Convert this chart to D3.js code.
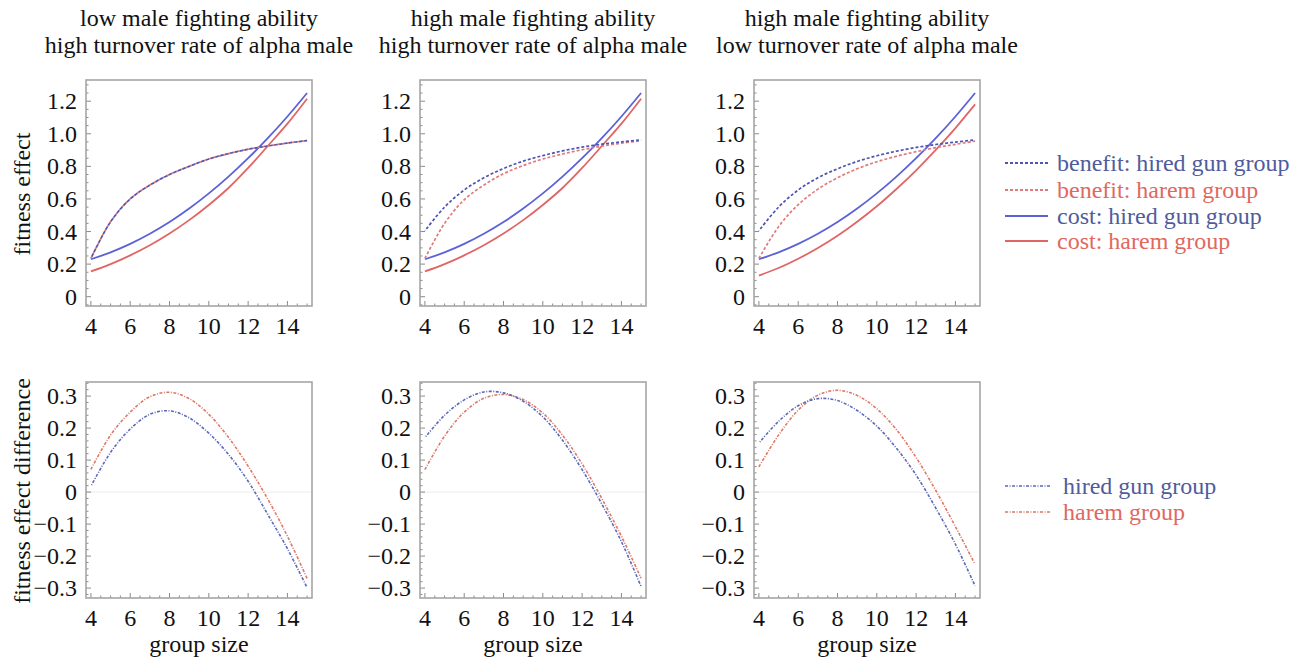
<!DOCTYPE html>
<html>
<head>
<meta charset="utf-8">
<script src="https://cdn.jsdelivr.net/npm/d3@7"></script>
<style>
  html, body { margin: 0; padding: 0; background: #fff; }
  svg { display: block; }
  text { font-family: "Liberation Serif", "Times New Roman", serif; }
</style>
</head>
<body>
<svg id="chart" width="1303" height="662"></svg>
<script>
// ---------------- data ----------------
const groupSizes = [4, 5, 6, 7, 8, 9, 10, 11, 12, 13, 14, 15];
const xTickValues = [4, 6, 8, 10, 12, 14];
const topYTickValues = [0, 0.2, 0.4, 0.6, 0.8, 1.0, 1.2];
const topYTickLabels = ["0", "0.2", "0.4", "0.6", "0.8", "1.0", "1.2"];
const bottomYTickValues = [-0.3, -0.2, -0.1, 0, 0.1, 0.2, 0.3];
const bottomYTickLabels = ["\u22120.3", "\u22120.2", "\u22120.1", "0", "0.1", "0.2", "0.3"];

const panelTitles = [
  ["low male fighting ability", "high turnover rate of alpha male"],
  ["high male fighting ability", "high turnover rate of alpha male"],
  ["high male fighting ability", "low turnover rate of alpha male"]
];

// top row: fitness effect
const benefitHiredGun1 = [0.235, 0.46, 0.60, 0.685, 0.75, 0.80, 0.845, 0.878, 0.905, 0.925, 0.943, 0.958];
const benefitHarem1    = [0.235, 0.46, 0.60, 0.685, 0.75, 0.80, 0.845, 0.878, 0.905, 0.925, 0.943, 0.958];
const costHiredGun1    = [0.23, 0.272, 0.324, 0.386, 0.458, 0.541, 0.634, 0.737, 0.85, 0.973, 1.106, 1.25];
const costHarem1       = [0.155, 0.20, 0.254, 0.316, 0.388, 0.47, 0.563, 0.667, 0.79, 0.925, 1.062, 1.215];

const benefitHiredGun2 = [0.405, 0.55, 0.655, 0.73, 0.787, 0.832, 0.866, 0.895, 0.918, 0.936, 0.95, 0.963];
const benefitHarem2    = [0.235, 0.45, 0.595, 0.685, 0.755, 0.805, 0.845, 0.876, 0.902, 0.924, 0.942, 0.957];
const costHiredGun2    = [0.23, 0.272, 0.324, 0.386, 0.458, 0.541, 0.634, 0.737, 0.85, 0.973, 1.106, 1.25];
const costHarem2       = [0.155, 0.20, 0.254, 0.316, 0.388, 0.47, 0.563, 0.667, 0.79, 0.925, 1.062, 1.215];

const benefitHiredGun3 = [0.405, 0.55, 0.655, 0.73, 0.785, 0.83, 0.865, 0.893, 0.916, 0.934, 0.949, 0.962];
const benefitHarem3    = [0.235, 0.43, 0.565, 0.66, 0.73, 0.785, 0.828, 0.862, 0.89, 0.915, 0.935, 0.955];
const costHiredGun3    = [0.23, 0.272, 0.324, 0.386, 0.458, 0.541, 0.634, 0.737, 0.85, 0.973, 1.106, 1.25];
const costHarem3       = [0.13, 0.176, 0.233, 0.299, 0.374, 0.46, 0.555, 0.661, 0.776, 0.901, 1.035, 1.18];

// bottom row: fitness effect difference
const diffHiredGun1 = [0.018, 0.124, 0.197, 0.243, 0.254, 0.232, 0.184, 0.118, 0.034, -0.07, -0.177, -0.299];
const diffHarem1    = [0.071, 0.178, 0.25, 0.298, 0.312, 0.292, 0.243, 0.171, 0.081, -0.022, -0.138, -0.27];
const diffHiredGun2 = [0.17, 0.24, 0.288, 0.313, 0.31, 0.284, 0.235, 0.162, 0.07, -0.037, -0.155, -0.295];
const diffHarem2    = [0.07, 0.175, 0.25, 0.293, 0.305, 0.289, 0.247, 0.178, 0.088, -0.02, -0.138, -0.269];
const diffHiredGun3 = [0.153, 0.221, 0.27, 0.292, 0.286, 0.255, 0.206, 0.137, 0.053, -0.05, -0.163, -0.293];
const diffHarem3    = [0.079, 0.178, 0.256, 0.303, 0.318, 0.302, 0.26, 0.195, 0.108, 0.005, -0.108, -0.226];

const topLegendLabels = ["benefit: hired gun group", "benefit: harem group", "cost: hired gun group", "cost: harem group"];
const bottomLegendLabels = ["hired gun group", "harem group"];

// ---------------- styles ----------------
const FONT = 24;
const blueLine = "#5c62d6", redLine = "#e06666";
const blueDash = "#4c54b4", redDash = "#e07a7a";
const blueDiff = "#5b68b8", redDiff = "#dc7868";
const blueText = "#4f5c9c", redText = "#e0685e";
const frameColor = "#a6a6a6", tickColor = "#8a8a8a";

const styles = {
  benefitHired: { stroke: blueDash, width: 1.7, dash: "3,2" },
  benefitHarem: { stroke: redDash, width: 1.7, dash: "3,2" },
  costHired:    { stroke: blueLine, width: 1.8, dash: null },
  costHarem:    { stroke: redLine, width: 1.8, dash: null },
  diffHired:    { stroke: blueDiff, width: 1.6, dash: "3,1.5,1,1.5" },
  diffHarem:    { stroke: redDiff, width: 1.6, dash: "3,1.5,1,1.5" }
};

const svg = d3.select("#chart");
const panelX = [86, 420, 754];
const panelW = 226;
const topY = [80, 306], botY = [382, 598];

function drawPanel(x0, yr, yDomain, yTicks, yLabels, minorStep, series, showXLabel, zeroLine) {
  const xs = d3.scaleLinear().domain([3.75, 15.25]).range([x0, x0 + panelW]);
  const ys = d3.scaleLinear().domain(yDomain).range([yr[1], yr[0]]);
  const g = svg.append("g");

  if (zeroLine) {
    g.append("line").attr("x1", x0).attr("x2", x0 + panelW)
      .attr("y1", ys(0)).attr("y2", ys(0))
      .attr("stroke", "#ececec").attr("stroke-width", 1);
  }

  const minorY = d3.range(Math.ceil(yDomain[0] / minorStep) * minorStep, yDomain[1], minorStep);
  minorY.forEach(v => {
    const isMajor = yTicks.some(t => Math.abs(t - v) < 1e-6);
    g.append("line").attr("x1", x0).attr("x2", x0 + (isMajor ? 5 : 2.5))
      .attr("y1", ys(v)).attr("y2", ys(v))
      .attr("stroke", tickColor).attr("stroke-width", 1);
  });
  const minorX = d3.range(4, 15.01, 0.5);
  minorX.forEach(v => {
    const isMajor = xTickValues.includes(v);
    g.append("line").attr("y1", yr[1]).attr("y2", yr[1] - (isMajor ? 5 : 2.5))
      .attr("x1", xs(v)).attr("x2", xs(v))
      .attr("stroke", tickColor).attr("stroke-width", 1);
  });

  g.append("rect").attr("x", x0).attr("y", yr[0]).attr("width", panelW).attr("height", yr[1] - yr[0])
    .attr("fill", "none").attr("stroke", frameColor).attr("stroke-width", 1.6);

  yTicks.forEach((v, i) => {
    g.append("text").attr("x", x0 - 9).attr("y", ys(v) + 8)
      .attr("text-anchor", "end").attr("font-size", FONT).attr("fill", "#111")
      .text(yLabels[i]);
  });
  xTickValues.forEach(v => {
    g.append("text").attr("x", xs(v)).attr("y", yr[1] + 28)
      .attr("text-anchor", "middle").attr("font-size", FONT).attr("fill", "#111")
      .text(v);
  });
  if (showXLabel) {
    g.append("text").attr("x", xs(9.5)).attr("y", yr[1] + 54)
      .attr("text-anchor", "middle").attr("font-size", FONT).attr("fill", "#111")
      .text("group size");
  }

  const line = d3.line().x((d, i) => xs(groupSizes[i])).y(d => ys(d)).curve(d3.curveCatmullRom.alpha(0.5));
  series.forEach(s => {
    const st = styles[s.style];
    g.append("path").datum(s.values).attr("d", line)
      .attr("fill", "none").attr("stroke", st.stroke).attr("stroke-width", st.width)
      .attr("stroke-dasharray", st.dash).attr("stroke-dashoffset", s.offset || 0);
  });
}

const topSeries = [
  [costHarem1, costHiredGun1, benefitHarem1, benefitHiredGun1],
  [costHarem2, costHiredGun2, benefitHarem2, benefitHiredGun2],
  [costHarem3, costHiredGun3, benefitHarem3, benefitHiredGun3]
];
const botSeries = [
  [diffHarem1, diffHiredGun1],
  [diffHarem2, diffHiredGun2],
  [diffHarem3, diffHiredGun3]
];

for (let p = 0; p < 3; p++) {
  const ts = topSeries[p];
  drawPanel(panelX[p], topY, [-0.057, 1.33], topYTickValues, topYTickLabels, 0.05, [
    { values: ts[0], style: "costHarem" },
    { values: ts[1], style: "costHired" },
    { values: ts[2], style: "benefitHarem" },
    { values: ts[3], style: "benefitHired", offset: 2.5 }
  ], false, false);
  const bs = botSeries[p];
  drawPanel(panelX[p], botY, [-0.331, 0.344], bottomYTickValues, bottomYTickLabels, 0.02, [
    { values: bs[0], style: "diffHarem" },
    { values: bs[1], style: "diffHired", offset: 3 }
  ], true, true);

  const cx = panelX[p] + panelW / 2;
  svg.append("text").attr("x", cx).attr("y", 26).attr("text-anchor", "middle")
    .attr("font-size", FONT).attr("fill", "#111").text(panelTitles[p][0]);
  svg.append("text").attr("x", cx).attr("y", 53).attr("text-anchor", "middle")
    .attr("font-size", FONT).attr("fill", "#111").text(panelTitles[p][1]);
}

svg.append("text").attr("transform", "translate(30,194) rotate(-90)")
  .attr("text-anchor", "middle").attr("font-size", FONT).attr("fill", "#111").text("fitness effect");
svg.append("text").attr("transform", "translate(30,491) rotate(-90)")
  .attr("text-anchor", "middle").attr("font-size", FONT).attr("fill", "#111").text("fitness effect difference");

const topLegendStyles = ["benefitHired", "benefitHarem", "costHired", "costHarem"];
const topLegendColors = [blueText, redText, blueText, redText];
const topLegendY = [163, 190, 216, 241];
topLegendLabels.forEach((lab, i) => {
  const st = styles[topLegendStyles[i]];
  svg.append("line").attr("x1", 1005).attr("x2", 1048).attr("y1", topLegendY[i]).attr("y2", topLegendY[i])
    .attr("stroke", st.stroke).attr("stroke-width", st.width + 0.4).attr("stroke-dasharray", st.dash);
  svg.append("text").attr("x", 1057).attr("y", topLegendY[i] + 7.5).attr("font-size", FONT)
    .attr("fill", topLegendColors[i]).text(lab);
});

const botLegendStyles = ["diffHired", "diffHarem"];
const botLegendColors = [blueText, redText];
const botLegendY = [486, 512];
bottomLegendLabels.forEach((lab, i) => {
  const st = styles[botLegendStyles[i]];
  svg.append("line").attr("x1", 1005).attr("x2", 1050).attr("y1", botLegendY[i]).attr("y2", botLegendY[i])
    .attr("stroke", st.stroke).attr("stroke-width", st.width).attr("stroke-dasharray", st.dash);
  svg.append("text").attr("x", 1063).attr("y", botLegendY[i] + 7.5).attr("font-size", FONT)
    .attr("fill", botLegendColors[i]).text(lab);
});
</script>
</body>
</html>
